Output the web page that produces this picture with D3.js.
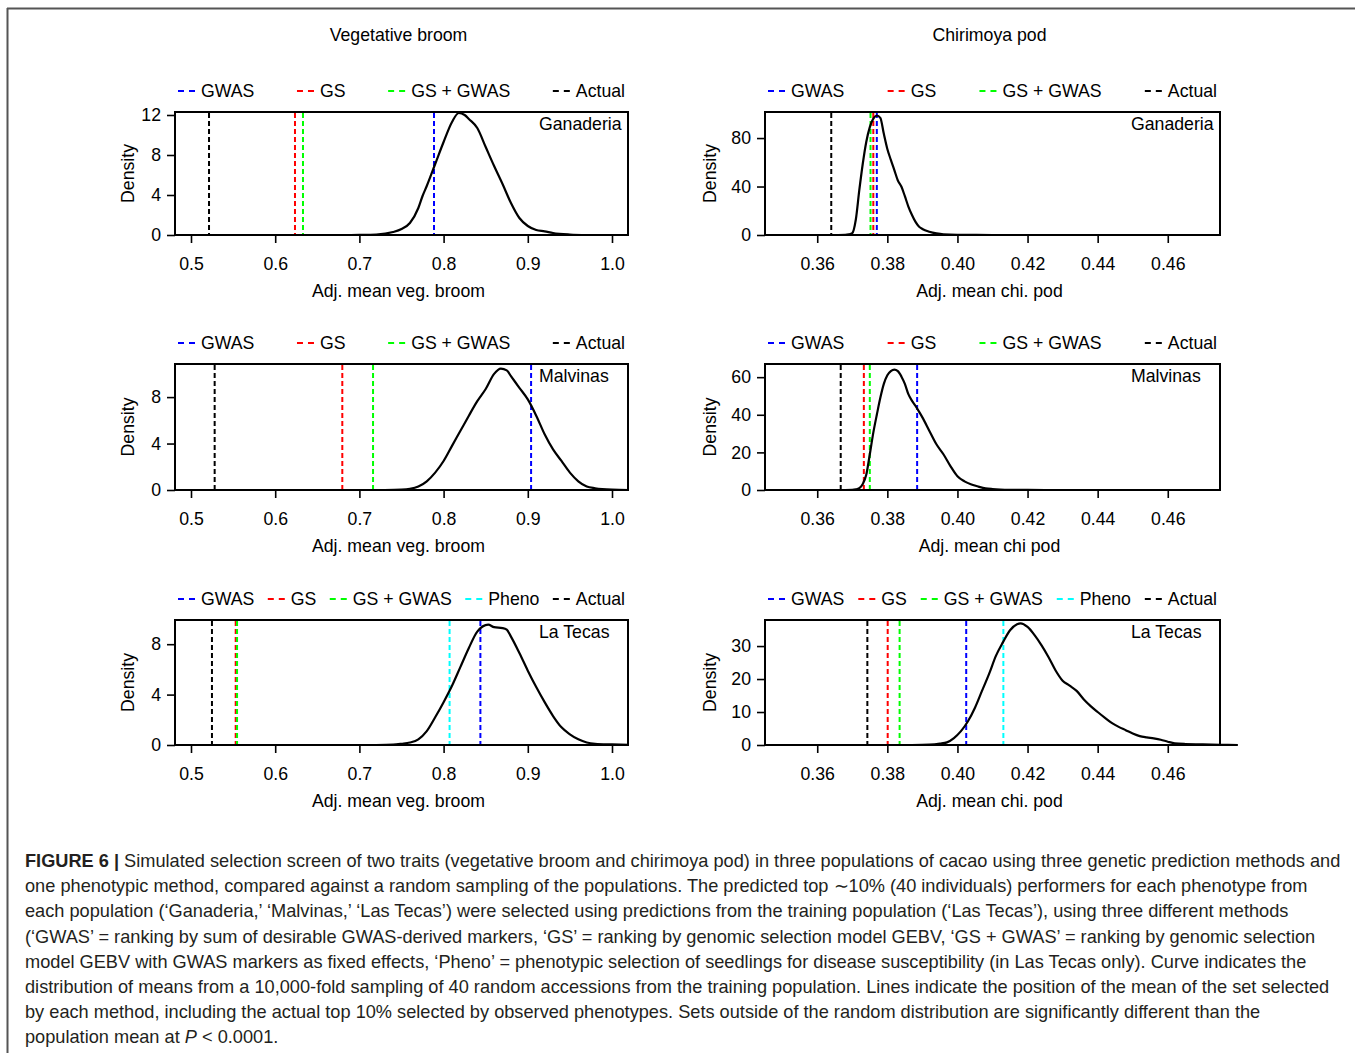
<!DOCTYPE html>
<html>
<head>
<meta charset="utf-8">
<script src="https://cdn.jsdelivr.net/npm/d3@7"></script>
<style>
  body { margin: 0; background: #fff; }
  svg { display: block; font-family: 'Liberation Sans', Arial, sans-serif; }
</style>
</head>
<body>
<div id="chart"></div>
<script>
// methods and their line colours
const methods = ['GWAS', 'GS', 'GS + GWAS', 'Pheno', 'Actual']
const methodColors = ['#0000ff', '#ff0000', '#00ff00', '#00ffff', '#000000']

const traitTitles = ['Vegetative broom', 'Chirimoya pod']
const populations = ['Ganaderia', 'Malvinas', 'La Tecas']

// position of the selected-set mean for each method (null = not shown)
const vegGanaderiaMarks = [0.7886, 0.6235, 0.633, null, 0.5214]
const vegMalvinasMarks = [0.9039, 0.6797, 0.7162, null, 0.5281]
const vegLaTecasMarks = [0.8437, 0.5531, 0.5547, 0.8071, 0.5249]
const chiGanaderiaMarks = [0.3770, 0.3760, 0.3752, null, 0.3640]
const chiMalvinasMarks = [0.3885, 0.3733, 0.3750, null, 0.3667]
const chiLaTecasMarks = [0.4025, 0.3801, 0.3835, 0.4131, 0.3743]

// density of random-sample means, [value, density]
const vegGanaderiaDensity = [
  [0.69, 0], [0.70, 0.01], [0.72, 0.05], [0.74, 0.3], [0.75, 0.6], [0.76, 1.2], [0.77, 2.7],
  [0.775, 3.9], [0.78, 4.9], [0.79, 7.1], [0.80, 9.3], [0.81, 11.3], [0.818, 12.2],
  [0.825, 12.0], [0.83, 11.6], [0.84, 10.7], [0.85, 8.8], [0.86, 6.9], [0.87, 5.1],
  [0.88, 3.2], [0.89, 1.7], [0.90, 0.9], [0.91, 0.5], [0.92, 0.37], [0.93, 0.2],
  [0.95, 0.05], [0.97, 0]
]
const vegMalvinasDensity = [
  [0.73, 0], [0.75, 0.03], [0.76, 0.1], [0.77, 0.3], [0.78, 0.75], [0.79, 1.5], [0.80, 2.5],
  [0.81, 3.8], [0.82, 5.1], [0.83, 6.4], [0.84, 7.65], [0.85, 8.7], [0.86, 10.0],
  [0.868, 10.45], [0.875, 10.3], [0.88, 9.8], [0.89, 8.8], [0.90, 7.8], [0.91, 6.4],
  [0.92, 4.8], [0.93, 3.5], [0.94, 2.5], [0.95, 1.5], [0.96, 0.75], [0.97, 0.3],
  [0.98, 0.15], [1.00, 0.03], [1.02, 0]
]
const vegLaTecasDensity = [
  [0.72, 0], [0.74, 0.03], [0.75, 0.1], [0.76, 0.2], [0.77, 0.45], [0.78, 1.1], [0.79, 2.2],
  [0.80, 3.4], [0.81, 4.7], [0.82, 6.2], [0.83, 7.7], [0.84, 9.0], [0.853, 9.55],
  [0.86, 9.35], [0.87, 9.28], [0.875, 9.15], [0.88, 8.6], [0.89, 7.3], [0.90, 5.9],
  [0.91, 4.6], [0.92, 3.4], [0.93, 2.3], [0.94, 1.4], [0.95, 0.85], [0.96, 0.45],
  [0.97, 0.2], [0.98, 0.1], [1.00, 0.05], [1.02, 0.01]
]
const chiGanaderiaDensity = [
  [0.366, 0], [0.368, 0.1], [0.369, 0.5], [0.370, 1.6], [0.371, 12.6], [0.372, 37], [0.373, 59],
  [0.374, 77], [0.375, 89], [0.376, 96], [0.377, 98.6], [0.378, 96.7], [0.379, 83.5],
  [0.380, 71], [0.381, 62], [0.382, 53.5], [0.383, 45], [0.384, 40], [0.385, 32],
  [0.386, 23.5], [0.387, 16.7], [0.388, 11], [0.389, 7], [0.390, 5], [0.392, 2.7],
  [0.394, 1.3], [0.396, 0.5], [0.400, 0.1], [0.41, 0]
]
const chiMalvinasDensity = [
  [0.368, 0], [0.370, 0.05], [0.371, 0.3], [0.372, 1], [0.373, 3.2], [0.374, 8.2], [0.375, 19],
  [0.376, 30.5], [0.377, 40], [0.378, 49], [0.379, 56.4], [0.380, 61], [0.381, 63.2],
  [0.382, 64], [0.383, 63.2], [0.384, 60.4], [0.385, 56.4], [0.386, 51], [0.387, 47.5],
  [0.388, 44.8], [0.389, 41.8], [0.390, 38.6], [0.392, 31.4], [0.394, 24.3], [0.396, 19],
  [0.398, 12.7], [0.400, 7.3], [0.402, 4.6], [0.404, 2.9], [0.406, 1.8], [0.408, 0.9],
  [0.410, 0.5], [0.415, 0.1], [0.42, 0.02], [0.43, 0]
]
const chiLaTecasDensity = [
  [0.387, 0], [0.392, 0.1], [0.395, 0.4], [0.397, 0.8], [0.399, 2.1], [0.401, 4.2],
  [0.403, 7.2], [0.405, 11.3], [0.407, 16.4], [0.409, 21.5], [0.411, 27.1], [0.413, 31.2],
  [0.415, 34.8], [0.417, 36.6], [0.418, 36.9], [0.420, 35.8], [0.422, 33.3], [0.424, 30.2],
  [0.426, 26.6], [0.428, 22.6], [0.430, 19.5], [0.432, 18.0], [0.434, 16.4], [0.436, 13.9],
  [0.438, 11.8], [0.440, 10], [0.442, 8.3], [0.444, 6.7], [0.446, 5.5], [0.448, 4.5],
  [0.450, 3.5], [0.452, 2.7], [0.454, 2.3], [0.456, 2.0], [0.458, 1.6], [0.460, 1.0],
  [0.462, 0.5], [0.465, 0.3], [0.470, 0.2], [0.475, 0.05], [0.480, 0]
]

// axis settings
const vegDomain = [0.481, 1.019]
const chiDomain = [0.3451, 0.4749]
const vegTicks = [0.5, 0.6, 0.7, 0.8, 0.9, 1.0]
const chiTicks = [0.36, 0.38, 0.40, 0.42, 0.44, 0.46]
const yMaxes = [[12.3, 10.85, 9.92], [101.5, 67, 37.9]]
const yTicks = [[[0, 4, 8, 12], [0, 4, 8], [0, 4, 8]], [[0, 40, 80], [0, 20, 40, 60], [0, 10, 20, 30]]]
const xLabels = [
  ['Adj. mean veg. broom', 'Adj. mean veg. broom', 'Adj. mean veg. broom'],
  ['Adj. mean chi. pod', 'Adj. mean chi pod', 'Adj. mean chi. pod']
]

const densities = [
  [vegGanaderiaDensity, vegMalvinasDensity, vegLaTecasDensity],
  [chiGanaderiaDensity, chiMalvinasDensity, chiLaTecasDensity]
]
const marks = [
  [vegGanaderiaMarks, vegMalvinasMarks, vegLaTecasMarks],
  [chiGanaderiaMarks, chiMalvinasMarks, chiLaTecasMarks]
]

const captionLines = [
  ' Simulated selection screen of two traits (vegetative broom and chirimoya pod) in three populations of cacao using three genetic prediction methods and',
  'one phenotypic method, compared against a random sampling of the populations. The predicted top \u223c10% (40 individuals) performers for each phenotype from',
  'each population (\u2018Ganaderia,\u2019 \u2018Malvinas,\u2019 \u2018Las Tecas\u2019) were selected using predictions from the training population (\u2018Las Tecas\u2019), using three different methods',
  '(\u2018GWAS\u2019 = ranking by sum of desirable GWAS-derived markers, \u2018GS\u2019 = ranking by genomic selection model GEBV, \u2018GS + GWAS\u2019 = ranking by genomic selection',
  'model GEBV with GWAS markers as fixed effects, \u2018Pheno\u2019 = phenotypic selection of seedlings for disease susceptibility (in Las Tecas only). Curve indicates the',
  'distribution of means from a 10,000-fold sampling of 40 random accessions from the training population. Lines indicate the position of the mean of the set selected',
  'by each method, including the actual top 10% selected by observed phenotypes. Sets outside of the random distribution are significantly different than the'
]

const W = 1355
const H = 1053
const colLeft = [175, 765]
const colRight = [628, 1220]
const rowTop = [112, 364, 620]
const rowBottom = [235, 490, 745]
const fontSize = 17.7

const svg = d3.select('#chart').append('svg')
  .attr('width', W)
  .attr('height', H)

// outer frame (top and left edges only)
svg.append('line')
  .attr('x1', 7).attr('x2', W).attr('y1', 8.5).attr('y2', 8.5)
  .attr('stroke', '#555').attr('stroke-width', 2)
svg.append('line')
  .attr('x1', 7.5).attr('x2', 7.5).attr('y1', 8).attr('y2', H)
  .attr('stroke', '#555').attr('stroke-width', 2)

// column titles
traitTitles.forEach((t, c) => {
  svg.append('text')
    .attr('x', (colLeft[c] + colRight[c]) / 2 - 3)
    .attr('y', 41)
    .attr('text-anchor', 'middle')
    .attr('font-size', fontSize)
    .text(t)
})

const line = d3.line()
  .curve(d3.curveMonotoneX)

for (let c = 0; c < 2; c++) {
  for (let r = 0; r < 3; r++) {
    const left = colLeft[c]
    const right = colRight[c]
    const top = rowTop[r]
    const bottom = rowBottom[r]

    const x = d3.scaleLinear()
      .domain(c === 0 ? vegDomain : chiDomain)
      .range([left, right])
    const y = d3.scaleLinear()
      .domain([0, yMaxes[c][r]])
      .range([bottom, top])

    const g = svg.append('g')

    // x axis
    const xAxis = d3.axisBottom(x)
      .tickValues(c === 0 ? vegTicks : chiTicks)
      .tickFormat(c === 0 ? d3.format('.1f') : d3.format('.2f'))
      .tickSize(8)
      .tickSizeOuter(0)
      .tickPadding(14)
    g.append('g')
      .attr('transform', 'translate(0,' + bottom + ')')
      .call(xAxis)
      .call(a => a.select('.domain').remove())
      .call(a => a.selectAll('line').attr('stroke', '#000').attr('stroke-width', 1.6))
      .call(a => a.selectAll('text').attr('font-size', fontSize).attr('fill', '#000')
        .style('font-family', "'Liberation Sans', Arial, sans-serif"))

    // y axis
    const yAxis = d3.axisLeft(y)
      .tickValues(yTicks[c][r])
      .tickSize(8)
      .tickSizeOuter(0)
      .tickPadding(6)
    g.append('g')
      .attr('transform', 'translate(' + left + ',0)')
      .call(yAxis)
      .call(a => a.select('.domain').remove())
      .call(a => a.selectAll('line').attr('stroke', '#000').attr('stroke-width', 1.6))
      .call(a => a.selectAll('text').attr('font-size', fontSize).attr('fill', '#000')
        .style('font-family', "'Liberation Sans', Arial, sans-serif"))

    // method lines
    marks[c][r].forEach((v, i) => {
      if (v === null) return
      g.append('line')
        .attr('x1', x(v)).attr('x2', x(v))
        .attr('y1', top + 1).attr('y2', bottom)
        .attr('stroke', methodColors[i])
        .attr('stroke-width', 2)
        .attr('stroke-dasharray', '5,3')
    })

    // density curve
    g.append('path')
      .datum(densities[c][r])
      .attr('d', line.x(d => x(d[0])).y(d => y(d[1])))
      .attr('fill', 'none')
      .attr('stroke', '#000')
      .attr('stroke-width', 2.2)

    // box
    g.append('rect')
      .attr('x', left).attr('y', top)
      .attr('width', right - left).attr('height', bottom - top)
      .attr('fill', 'none')
      .attr('stroke', '#000')
      .attr('stroke-width', 2)

    // population label
    g.append('text')
      .attr('x', right - 89)
      .attr('y', top + 18)
      .attr('font-size', fontSize)
      .text(populations[r])

    // y label
    g.append('text')
      .attr('transform', 'translate(' + (c === 0 ? 134 : 716) + ',' + ((top + bottom) / 2) + ') rotate(-90)')
      .attr('text-anchor', 'middle')
      .attr('font-size', fontSize)
      .text('Density')

    // x label
    g.append('text')
      .attr('x', (left + right) / 2 - 3)
      .attr('y', bottom + 62)
      .attr('text-anchor', 'middle')
      .attr('font-size', fontSize)
      .text(xLabels[c][r])

    // legend across the top
    const items = methods
      .map((m, i) => ({ name: m, color: methodColors[i], value: marks[c][r][i] }))
      .filter(d => d.value !== null)
    const leg = g.append('g')
    const dashLen = 18
    const widths = items.map(d => {
      const t = leg.append('text')
        .attr('font-size', fontSize)
        .text(d.name)
      const w = t.node().getComputedTextLength()
      t.remove()
      return dashLen + 5 + w
    })
    const legStart = left + 3
    const legEnd = right - 3
    const gap = (legEnd - legStart - d3.sum(widths)) / (items.length - 1)
    let lx = legStart
    items.forEach((d, i) => {
      leg.append('line')
        .attr('x1', lx).attr('x2', lx + dashLen)
        .attr('y1', top - 21).attr('y2', top - 21)
        .attr('stroke', d.color)
        .attr('stroke-width', 2)
        .attr('stroke-dasharray', '6,5')
      leg.append('text')
        .attr('x', lx + dashLen + 5)
        .attr('y', top - 15)
        .attr('font-size', fontSize)
        .text(d.name)
      lx += widths[i] + gap
    })
  }
}

// caption
const cap = svg.append('g')
  .attr('font-size', 18.2)
  .attr('fill', '#231f20')
const lineH = 25.2
const capTop = 867
const first = cap.append('text')
  .attr('x', 25)
  .attr('y', capTop)
first.append('tspan').attr('font-weight', 'bold').text('FIGURE 6 |')
first.append('tspan').text(captionLines[0])
captionLines.slice(1).forEach((l, i) => {
  cap.append('text')
    .attr('x', 25)
    .attr('y', capTop + (i + 1) * lineH)
    .text(l)
})
const last = cap.append('text')
  .attr('x', 25)
  .attr('y', capTop + captionLines.length * lineH)
last.append('tspan').text('population mean at ')
last.append('tspan').attr('font-style', 'italic').text('P')
last.append('tspan').text(' < 0.0001.')
</script>
</body>
</html>
